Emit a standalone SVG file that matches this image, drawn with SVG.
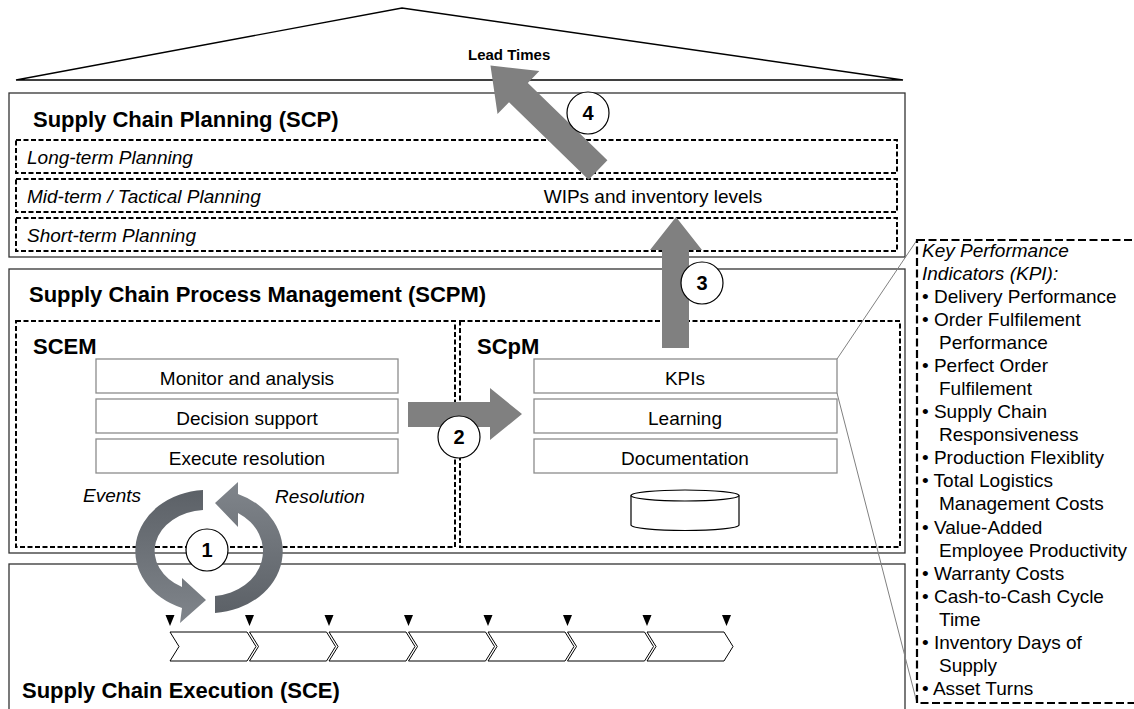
<svg xmlns="http://www.w3.org/2000/svg" width="1134" height="709" viewBox="0 0 1134 709">
<defs>
<style>
text { font-family: "Liberation Sans", Arial, sans-serif; fill: #000; }
.title { font-size: 22px; font-weight: bold; }
.row { font-size: 19px; font-style: italic; }
.lbl { font-size: 19px; }
.mid { text-anchor: middle; }
.outer { fill: #fff; stroke: #333; stroke-width: 1.3; }
.dash { fill: none; stroke: #000; stroke-width: 2; stroke-dasharray: 5 2.5; }
.sub { fill: #fff; stroke: #8c8c8c; stroke-width: 1.3; }
.big { fill: #808080; }
.num circle { fill: #fff; stroke: #000; stroke-width: 1.2; }
.num text { font-size: 20px; font-weight: bold; text-anchor: middle; }
.chev { fill: #fff; stroke: #000; stroke-width: 1; }
.tri { fill: #000; }
.kline { stroke: #808080; stroke-width: 1; fill: none; }
.kpi { font-size: 19px; }
</style>
<linearGradient id="gL" x1="0" y1="0" x2="0" y2="1">
<stop offset="0" stop-color="#5c6167"/>
<stop offset="1" stop-color="#80858b"/>
</linearGradient>
<linearGradient id="gR" x1="0" y1="0" x2="0" y2="1">
<stop offset="0" stop-color="#80858b"/>
<stop offset="1" stop-color="#5c6167"/>
</linearGradient>
</defs>

<g id="roof">
<polygon points="16,80 402,8 903,80" fill="#fff" stroke="#000" stroke-width="1.3"/>
<text x="468" y="60" font-size="15" font-weight="bold">Lead Times</text>
</g>

<g id="scp">
<rect class="outer" x="9" y="93" width="896" height="164"/>
<text class="title" x="33" y="127">Supply Chain Planning (SCP)</text>
<rect class="dash" x="16" y="140" width="881" height="33"/>
<text class="row" x="27" y="164">Long-term Planning</text>
<rect class="dash" x="16" y="179" width="881" height="33"/>
<text class="row" x="27" y="203">Mid-term / Tactical Planning</text>
<text class="lbl mid" x="653" y="203">WIPs and inventory levels</text>
<rect class="dash" x="16" y="218" width="881" height="33"/>
<text class="row" x="27" y="242">Short-term Planning</text>
</g>

<g id="scpm">
<rect class="outer" x="9" y="269" width="896" height="284"/>
<text class="title" x="29" y="302">Supply Chain Process Management (SCPM)</text>
</g>

<g id="scem">
<rect class="dash" x="16" y="321" width="439" height="226"/>
<text class="title" x="33" y="354">SCEM</text>
<rect class="sub" x="96" y="359" width="302" height="34"/>
<text class="lbl mid" x="247" y="385">Monitor and analysis</text>
<rect class="sub" x="96" y="399" width="302" height="34"/>
<text class="lbl mid" x="247" y="425">Decision support</text>
<rect class="sub" x="96" y="439" width="302" height="34"/>
<text class="lbl mid" x="247" y="465">Execute resolution</text>
<text class="row" x="83" y="502">Events</text>
<text class="row" x="275" y="503">Resolution</text>
</g>

<g id="scpm-sub">
<rect class="dash" x="460" y="321" width="440" height="226"/>
<text class="title" x="477" y="354">SCpM</text>
<rect class="sub" x="534" y="359" width="303" height="34"/>
<text class="lbl mid" x="685" y="385">KPIs</text>
<rect class="sub" x="534" y="399" width="303" height="34"/>
<text class="lbl mid" x="685" y="425">Learning</text>
<rect class="sub" x="534" y="439" width="303" height="34"/>
<text class="lbl mid" x="685" y="465">Documentation</text>
<g id="database">
<path d="M631,495.5 L631,525 A54,5.5 0 0 0 739,525 L739,495.5" fill="#fff" stroke="#000" stroke-width="1.2"/>
<ellipse cx="685" cy="495.5" rx="54" ry="5.5" fill="#fff" stroke="#000" stroke-width="1.2"/>
</g>
</g>

<g id="sce">
<rect class="outer" x="9" y="564" width="896" height="160"/>
<text class="title" x="22" y="698">Supply Chain Execution (SCE)</text>
<g id="process-chain">
<path class="chev" d="M170,632 h77 l9,14.5 l-9,14.5 h-77 l9,-14.5 z"/>
<path class="chev" d="M249.5,632 h77 l9,14.5 l-9,14.5 h-77 l9,-14.5 z"/>
<path class="chev" d="M329,632 h77 l9,14.5 l-9,14.5 h-77 l9,-14.5 z"/>
<path class="chev" d="M408.5,632 h77 l9,14.5 l-9,14.5 h-77 l9,-14.5 z"/>
<path class="chev" d="M488,632 h77 l9,14.5 l-9,14.5 h-77 l9,-14.5 z"/>
<path class="chev" d="M567.5,632 h77 l9,14.5 l-9,14.5 h-77 l9,-14.5 z"/>
<path class="chev" d="M647,632 h77 l9,14.5 l-9,14.5 h-77 l9,-14.5 z"/>
<path class="tri" d="M165.5,615 h9 l-4.5,11 z"/>
<path class="tri" d="M245,615 h9 l-4.5,11 z"/>
<path class="tri" d="M324.5,615 h9 l-4.5,11 z"/>
<path class="tri" d="M404,615 h9 l-4.5,11 z"/>
<path class="tri" d="M483.5,615 h9 l-4.5,11 z"/>
<path class="tri" d="M563,615 h9 l-4.5,11 z"/>
<path class="tri" d="M642.5,615 h9 l-4.5,11 z"/>
<path class="tri" d="M722,615 h9 l-4.5,11 z"/>
</g>
</g>

<g id="connectors">
<path id="arrow2" class="big" d="M408,402 L490,402 L490,388 L522,414 L490,440 L490,427 L408,427 Z"/>
<path id="arrow3" class="big" d="M662,348 L662,250 L650,250 L676,217 L702,250 L689,250 L689,348 Z"/>
<path id="arrow4" class="big" transform="translate(598,170) rotate(-45.8)" d="M-13.5,0 L-13.5,-111 L-30,-111 L0,-150 L30,-111 L13.5,-111 L13.5,0 Z"/>
<path id="cycle-events" fill="url(#gL)" d="M203,490 A72,61 0 0 0 182,608 L180,623 L206,600 L182,578 L182,587 A52,41 0 0 1 203,510 Z"/>
<path id="cycle-resolution" fill="url(#gR)" d="M215,613 A73,62 0 0 0 238,494 L238,482 L215,503 L238,527 L238,513 A53,45 0 0 1 215,596 Z"/>
<line class="kline" x1="837" y1="359" x2="917" y2="240"/>
<line class="kline" x1="837" y1="393" x2="917" y2="703"/>
</g>

<g id="step1" class="num"><circle cx="207" cy="550" r="21"/><text x="207" y="557">1</text></g>
<g id="step2" class="num"><circle cx="459" cy="437" r="21"/><text x="459" y="444">2</text></g>
<g id="step3" class="num"><circle cx="702" cy="283" r="21"/><text x="702" y="290">3</text></g>
<g id="step4" class="num"><circle cx="588" cy="113" r="21"/><text x="588" y="120">4</text></g>

<g id="kpi-panel">
<rect x="917" y="240" width="240" height="463" fill="#fff" stroke="#000" stroke-width="2.2" stroke-dasharray="8 3.5"/>
<text class="kpi" font-style="italic" x="922" y="257">Key Performance</text>
<text class="kpi" font-style="italic" x="922" y="280">Indicators (KPI):</text>
<text class="kpi" x="922" y="303">• Delivery Performance</text>
<text class="kpi" x="922" y="326">• Order Fulfilement</text>
<text class="kpi" x="939" y="349">Performance</text>
<text class="kpi" x="922" y="372">• Perfect Order</text>
<text class="kpi" x="939" y="395">Fulfilement</text>
<text class="kpi" x="922" y="418">• Supply Chain</text>
<text class="kpi" x="939" y="441">Responsiveness</text>
<text class="kpi" x="922" y="464">• Production Flexiblity</text>
<text class="kpi" x="922" y="487">• Total Logistics</text>
<text class="kpi" x="939" y="510">Management Costs</text>
<text class="kpi" x="922" y="534">• Value-Added</text>
<text class="kpi" x="939" y="557">Employee Productivity</text>
<text class="kpi" x="922" y="580">• Warranty Costs</text>
<text class="kpi" x="922" y="603">• Cash-to-Cash Cycle</text>
<text class="kpi" x="939" y="626">Time</text>
<text class="kpi" x="922" y="649">• Inventory Days of</text>
<text class="kpi" x="939" y="672">Supply</text>
<text class="kpi" x="922" y="695">• Asset Turns</text>
</g>
</svg>
